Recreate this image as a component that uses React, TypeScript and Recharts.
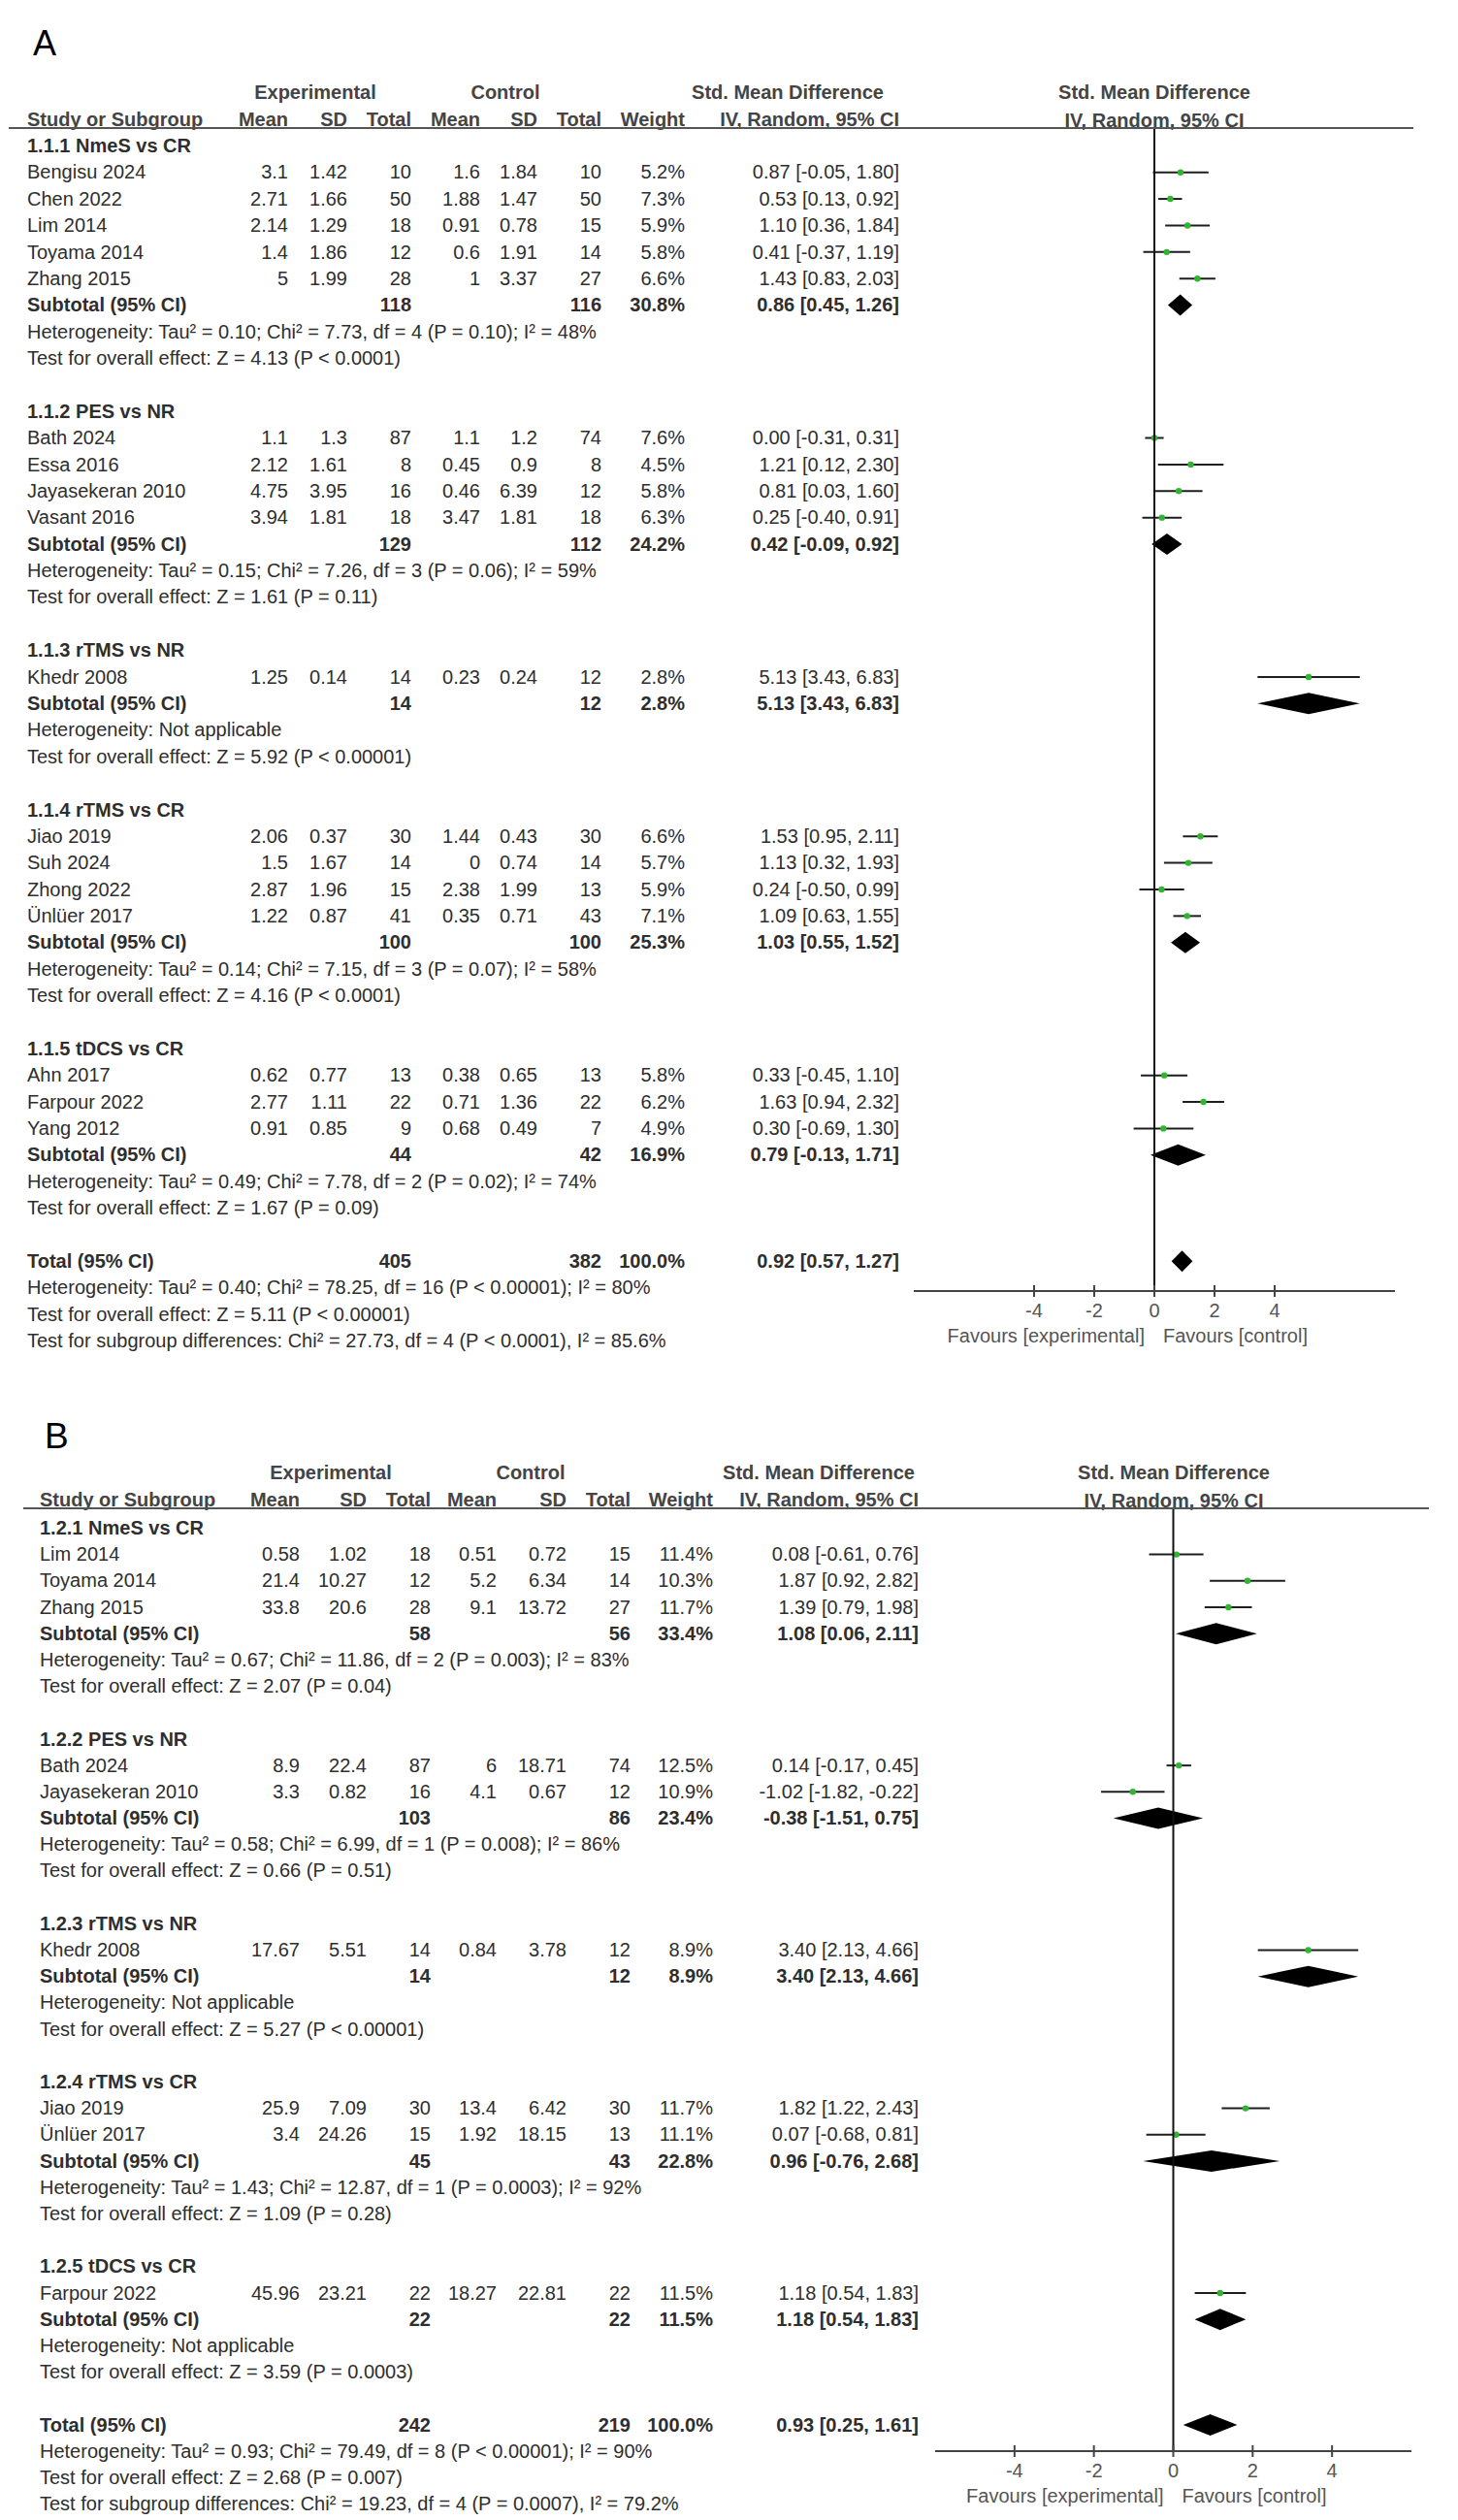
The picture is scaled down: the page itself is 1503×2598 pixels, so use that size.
import React from 'react';
import { ComposedChart, Bar, XAxis, YAxis, ReferenceLine } from 'recharts';

const FONT = '"Liberation Sans", Arial, Helvetica, sans-serif';
const TEXT = '#2e2e2e';
const HEAD = '#444444';
const GREEN = '#2fb52f';

// ---------------- Panel A data ----------------
const A_GROUPS = ['1.1.1 NmeS vs CR', '1.1.2 PES vs NR', '1.1.3 rTMS vs NR', '1.1.4 rTMS vs CR', '1.1.5 tDCS vs CR'];
const A_STUDIES = ['Bengisu 2024', 'Chen 2022', 'Lim 2014', 'Toyama 2014', 'Zhang 2015', 'Bath 2024', 'Essa 2016', 'Jayasekeran 2010', 'Vasant 2016', 'Khedr 2008', 'Jiao 2019', 'Suh 2024', 'Zhong 2022', 'Ünlüer 2017', 'Ahn 2017', 'Farpour 2022', 'Yang 2012'];
const A_STUDY_GROUP = [0, 0, 0, 0, 0, 1, 1, 1, 1, 2, 3, 3, 3, 3, 4, 4, 4];
const A_EXP_MEAN = [3.1, 2.71, 2.14, 1.4, 5, 1.1, 2.12, 4.75, 3.94, 1.25, 2.06, 1.5, 2.87, 1.22, 0.62, 2.77, 0.91];
const A_EXP_SD = [1.42, 1.66, 1.29, 1.86, 1.99, 1.3, 1.61, 3.95, 1.81, 0.14, 0.37, 1.67, 1.96, 0.87, 0.77, 1.11, 0.85];
const A_EXP_N = [10, 50, 18, 12, 28, 87, 8, 16, 18, 14, 30, 14, 15, 41, 13, 22, 9];
const A_CTL_MEAN = [1.6, 1.88, 0.91, 0.6, 1, 1.1, 0.45, 0.46, 3.47, 0.23, 1.44, 0, 2.38, 0.35, 0.38, 0.71, 0.68];
const A_CTL_SD = [1.84, 1.47, 0.78, 1.91, 3.37, 1.2, 0.9, 6.39, 1.81, 0.24, 0.43, 0.74, 1.99, 0.71, 0.65, 1.36, 0.49];
const A_CTL_N = [10, 50, 15, 14, 27, 74, 8, 12, 18, 12, 30, 14, 13, 43, 13, 22, 7];
const A_WEIGHT = [5.2, 7.3, 5.9, 5.8, 6.6, 7.6, 4.5, 5.8, 6.3, 2.8, 6.6, 5.7, 5.9, 7.1, 5.8, 6.2, 4.9];
const A_SMD = [0.87, 0.53, 1.1, 0.41, 1.43, 0.0, 1.21, 0.81, 0.25, 5.13, 1.53, 1.13, 0.24, 1.09, 0.33, 1.63, 0.3];
const A_LO = [-0.05, 0.13, 0.36, -0.37, 0.83, -0.31, 0.12, 0.03, -0.4, 3.43, 0.95, 0.32, -0.5, 0.63, -0.45, 0.94, -0.69];
const A_HI = [1.8, 0.92, 1.84, 1.19, 2.03, 0.31, 2.3, 1.6, 0.91, 6.83, 2.11, 1.93, 0.99, 1.55, 1.1, 2.32, 1.3];
const A_SUB_EXP_N = [118, 129, 14, 100, 44];
const A_SUB_CTL_N = [116, 112, 12, 100, 42];
const A_SUB_WEIGHT = [30.8, 24.2, 2.8, 25.3, 16.9];
const A_SUB_SMD = [0.86, 0.42, 5.13, 1.03, 0.79];
const A_SUB_LO = [0.45, -0.09, 3.43, 0.55, -0.13];
const A_SUB_HI = [1.26, 0.92, 6.83, 1.52, 1.71];
const A_SUB_HET = [
  'Heterogeneity: Tau² = 0.10; Chi² = 7.73, df = 4 (P = 0.10); I² = 48%',
  'Heterogeneity: Tau² = 0.15; Chi² = 7.26, df = 3 (P = 0.06); I² = 59%',
  'Heterogeneity: Not applicable',
  'Heterogeneity: Tau² = 0.14; Chi² = 7.15, df = 3 (P = 0.07); I² = 58%',
  'Heterogeneity: Tau² = 0.49; Chi² = 7.78, df = 2 (P = 0.02); I² = 74%',
];
const A_SUB_Z = [
  'Test for overall effect: Z = 4.13 (P < 0.0001)',
  'Test for overall effect: Z = 1.61 (P = 0.11)',
  'Test for overall effect: Z = 5.92 (P < 0.00001)',
  'Test for overall effect: Z = 4.16 (P < 0.0001)',
  'Test for overall effect: Z = 1.67 (P = 0.09)',
];
const A_TOTAL_N = [405, 382];
const A_TOTAL_EFFECT = [0.92, 0.57, 1.27];
const A_TOTAL_NOTES = [
  'Heterogeneity: Tau² = 0.40; Chi² = 78.25, df = 16 (P < 0.00001); I² = 80%',
  'Test for overall effect: Z = 5.11 (P < 0.00001)',
  'Test for subgroup differences: Chi² = 27.73, df = 4 (P < 0.0001), I² = 85.6%',
];
const A_TICKS = [-4, -2, 0, 2, 4];
const A_DOMAIN = [-8, 8];

// ---------------- Panel B data ----------------
const B_GROUPS = ['1.2.1 NmeS vs CR', '1.2.2 PES vs NR', '1.2.3 rTMS vs NR', '1.2.4 rTMS vs CR', '1.2.5 tDCS vs CR'];
const B_STUDIES = ['Lim 2014', 'Toyama 2014', 'Zhang 2015', 'Bath 2024', 'Jayasekeran 2010', 'Khedr 2008', 'Jiao 2019', 'Ünlüer 2017', 'Farpour 2022'];
const B_STUDY_GROUP = [0, 0, 0, 1, 1, 2, 3, 3, 4];
const B_EXP_MEAN = [0.58, 21.4, 33.8, 8.9, 3.3, 17.67, 25.9, 3.4, 45.96];
const B_EXP_SD = [1.02, 10.27, 20.6, 22.4, 0.82, 5.51, 7.09, 24.26, 23.21];
const B_EXP_N = [18, 12, 28, 87, 16, 14, 30, 15, 22];
const B_CTL_MEAN = [0.51, 5.2, 9.1, 6, 4.1, 0.84, 13.4, 1.92, 18.27];
const B_CTL_SD = [0.72, 6.34, 13.72, 18.71, 0.67, 3.78, 6.42, 18.15, 22.81];
const B_CTL_N = [15, 14, 27, 74, 12, 12, 30, 13, 22];
const B_WEIGHT = [11.4, 10.3, 11.7, 12.5, 10.9, 8.9, 11.7, 11.1, 11.5];
const B_SMD = [0.08, 1.87, 1.39, 0.14, -1.02, 3.4, 1.82, 0.07, 1.18];
const B_LO = [-0.61, 0.92, 0.79, -0.17, -1.82, 2.13, 1.22, -0.68, 0.54];
const B_HI = [0.76, 2.82, 1.98, 0.45, -0.22, 4.66, 2.43, 0.81, 1.83];
const B_SUB_EXP_N = [58, 103, 14, 45, 22];
const B_SUB_CTL_N = [56, 86, 12, 43, 22];
const B_SUB_WEIGHT = [33.4, 23.4, 8.9, 22.8, 11.5];
const B_SUB_SMD = [1.08, -0.38, 3.4, 0.96, 1.18];
const B_SUB_LO = [0.06, -1.51, 2.13, -0.76, 0.54];
const B_SUB_HI = [2.11, 0.75, 4.66, 2.68, 1.83];
const B_SUB_HET = [
  'Heterogeneity: Tau² = 0.67; Chi² = 11.86, df = 2 (P = 0.003); I² = 83%',
  'Heterogeneity: Tau² = 0.58; Chi² = 6.99, df = 1 (P = 0.008); I² = 86%',
  'Heterogeneity: Not applicable',
  'Heterogeneity: Tau² = 1.43; Chi² = 12.87, df = 1 (P = 0.0003); I² = 92%',
  'Heterogeneity: Not applicable',
];
const B_SUB_Z = [
  'Test for overall effect: Z = 2.07 (P = 0.04)',
  'Test for overall effect: Z = 0.66 (P = 0.51)',
  'Test for overall effect: Z = 5.27 (P < 0.00001)',
  'Test for overall effect: Z = 1.09 (P = 0.28)',
  'Test for overall effect: Z = 3.59 (P = 0.0003)',
];
const B_TOTAL_N = [242, 219];
const B_TOTAL_EFFECT = [0.93, 0.25, 1.61];
const B_TOTAL_NOTES = [
  'Heterogeneity: Tau² = 0.93; Chi² = 79.49, df = 8 (P < 0.00001); I² = 90%',
  'Test for overall effect: Z = 2.68 (P = 0.007)',
  'Test for subgroup differences: Chi² = 19.23, df = 4 (P = 0.0007), I² = 79.2%',
];
const B_TICKS = [-4, -2, 0, 2, 4];
const B_DOMAIN = [-6, 6];

// ---------------- helpers ----------------
type Row = {
  key: string;
  kind: 'group' | 'study' | 'subtotal' | 'note' | 'blank' | 'total';
  label?: string;
  cells?: string[];
  smd?: number;
  range: [number, number] | null;
  notes?: string[];
};

const f2 = (v: number) => v.toFixed(2);
const ciText = (e: number, lo: number, hi: number) => `${f2(e)} [${f2(lo)}, ${f2(hi)}]`;
const pct = (w: number) => `${w.toFixed(1)}%`;

function buildRows(d: any): Row[] {
  const rows: Row[] = [];
  let k = 0;
  const push = (r: Partial<Row>) => rows.push({ key: `r${k++}`, range: null, kind: 'blank', ...r } as Row);
  d.groups.forEach((g: string, gi: number) => {
    if (gi > 0) push({ kind: 'blank' });
    push({ kind: 'group', label: g });
    d.studies.forEach((s: string, i: number) => {
      if (d.studyGroup[i] !== gi) return;
      push({
        kind: 'study',
        label: s,
        cells: [String(d.expMean[i]), String(d.expSd[i]), String(d.expN[i]), String(d.ctlMean[i]), String(d.ctlSd[i]), String(d.ctlN[i]), pct(d.weight[i]), ciText(d.smd[i], d.lo[i], d.hi[i])],
        smd: d.smd[i],
        range: [d.lo[i], d.hi[i]],
      });
    });
    push({
      kind: 'subtotal',
      label: 'Subtotal (95% CI)',
      cells: ['', '', String(d.subExpN[gi]), '', '', String(d.subCtlN[gi]), pct(d.subWeight[gi]), ciText(d.subSmd[gi], d.subLo[gi], d.subHi[gi])],
      smd: d.subSmd[gi],
      range: [d.subLo[gi], d.subHi[gi]],
    });
    push({ kind: 'note', label: d.subHet[gi] });
    push({ kind: 'note', label: d.subZ[gi] });
  });
  push({ kind: 'blank' });
  push({
    kind: 'total',
    label: 'Total (95% CI)',
    cells: ['', '', String(d.totalN[0]), '', '', String(d.totalN[1]), '100.0%', ciText(d.totalEffect[0], d.totalEffect[1], d.totalEffect[2])],
    smd: d.totalEffect[0],
    range: [d.totalEffect[1], d.totalEffect[2]],
    notes: d.totalNotes,
  });
  return rows;
}

const renderMark = (props: any) => {
  const { x, y, width, height, payload } = props;
  if (!payload || !payload.range || width == null) return <g />;
  const [lo, hi] = payload.range;
  const cx = x + (width * (payload.smd - lo)) / (hi - lo);
  const cy = y + height / 2;
  if (payload.kind === 'study') {
    return (
      <g>
        <line x1={x} x2={x + width} y1={cy} y2={cy} stroke="#1e1e1e" strokeWidth={2} />
        <circle cx={cx} cy={cy} r={3.2} fill={GREEN} />
      </g>
    );
  }
  return <polygon points={`${x},${cy} ${cx},${y} ${x + width},${cy} ${cx},${y + height}`} fill="#000" />;
};

const makeRowTick = (rowMap: Map<string, Row>, cols: any, step: number) => (props: any) => {
  const { y, payload } = props;
  const r = rowMap.get(payload.value);
  if (!r) return <g />;
  const bold = r.kind === 'group' || r.kind === 'subtotal' || r.kind === 'total';
  const by = y + 7;
  return (
    <g fontFamily={FONT} fontSize={20} fill={TEXT}>
      {r.label ? (
        <text x={cols.study} y={by} fontWeight={bold ? 700 : 400} fill={TEXT}>
          {r.label}
        </text>
      ) : null}
      {r.cells
        ? r.cells.map((c, i) =>
            c ? (
              <text key={i} x={cols.right[i]} y={by} textAnchor="end" fontWeight={bold ? 700 : 400} fill={TEXT}>
                {c}
              </text>
            ) : null
          )
        : null}
      {r.notes
        ? r.notes.map((n, i) => (
            <text key={'n' + i} x={cols.study} y={by + (i + 1) * step} fill={TEXT}>
              {n}
            </text>
          ))
        : null}
    </g>
  );
};

const AxisTick = (props: any) => {
  const { x, y, payload } = props;
  return (
    <g fontFamily={FONT} fontSize={20}>
      <line x1={x} x2={x} y1={y - 6} y2={y + 6} stroke="#444" strokeWidth={2} />
      <text x={x} y={y + 27} textAnchor="middle" fill="#555">
        {String(payload.value)}
      </text>
      {payload.value === 0 ? (
        <>
          <text x={x - 10} y={y + 53} textAnchor="end" fill="#555">
            Favours [experimental]
          </text>
          <text x={x + 9} y={y + 53} textAnchor="start" fill="#555">
            Favours [control]
          </text>
        </>
      ) : null}
    </g>
  );
};

type PanelLayout = {
  top: number;
  height: number;
  label: string;
  labelX: number;
  labelY: number;
  labelSize: number;
  headerY: number;
  lineX1: number;
  lineX2: number;
  plotLeft: number;
  plotRight: number;
  axisY: number;
  padTop: number;
  padBottom: number;
  step: number;
  cols: { study: number; right: number[] };
  expC: number;
  ctlC: number;
  smdC: number;
  zeroX: number;
};

function Panel({ data, layout, domain, ticks }: { data: any; layout: PanelLayout; domain: number[]; ticks: number[] }) {
  const rows = buildRows(data);
  const rowMap = new Map(rows.map((r) => [r.key, r] as [string, Row]));
  const L = layout;
  const hy = L.headerY;
  const c = L.cols;
  const headStyle: any = { fontFamily: FONT, fontSize: 20, fontWeight: 700, fill: HEAD };
  return (
    <div style={{ position: 'absolute', left: 0, top: L.top, width: 1503, height: L.height, overflow: 'hidden' }}>
      <ComposedChart
        width={1503}
        height={L.height}
        layout="vertical"
        data={rows}
        margin={{ top: hy, right: 1503 - L.plotRight, bottom: 0, left: 0 }}
      >
        <XAxis
          type="number"
          domain={domain}
          ticks={ticks}
          interval={0}
          allowDataOverflow
          height={L.height - L.axisY}
          tickSize={0}
          tickMargin={0}
          tickLine={false}
          axisLine={{ stroke: '#444', strokeWidth: 2 }}
          tick={AxisTick}
        />
        <YAxis
          type="category"
          dataKey="key"
          width={L.plotLeft}
          interval={0}
          axisLine={false}
          tickLine={false}
          padding={{ top: L.padTop, bottom: L.padBottom }}
          tick={makeRowTick(rowMap, c, L.step)}
        />
        <ReferenceLine x={0} stroke="#111" strokeWidth={2} />
        <Bar dataKey="range" barSize={22} isAnimationActive={false} shape={renderMark} />
      </ComposedChart>
      <svg width={1503} height={L.height} style={{ position: 'absolute', left: 0, top: 0, pointerEvents: 'none' }}>
        <text x={L.labelX} y={L.labelY} fontFamily={FONT} fontSize={L.labelSize} fill="#000">
          {L.label}
        </text>
        <text {...headStyle} x={L.expC} y={hy - 30} textAnchor="middle">Experimental</text>
        <text {...headStyle} x={L.ctlC} y={hy - 30} textAnchor="middle">Control</text>
        <text {...headStyle} x={L.smdC} y={hy - 30} textAnchor="middle">Std. Mean Difference</text>
        <text {...headStyle} x={L.zeroX} y={hy - 30} textAnchor="middle">Std. Mean Difference</text>
        <text {...headStyle} x={c.study} y={hy - 2}>Study or Subgroup</text>
        {['Mean', 'SD', 'Total', 'Mean', 'SD', 'Total', 'Weight', 'IV, Random, 95% CI'].map((h, i) => (
          <text key={i} {...headStyle} x={c.right[i]} y={hy - 2} textAnchor="end">
            {h}
          </text>
        ))}
        <text {...headStyle} x={L.zeroX} y={hy - 1} textAnchor="middle">IV, Random, 95% CI</text>
        <line x1={L.lineX1} x2={L.lineX2} y1={hy} y2={hy} stroke="#555" strokeWidth={2} />
      </svg>
    </div>
  );
}

const DATA_A = {
  groups: A_GROUPS, studies: A_STUDIES, studyGroup: A_STUDY_GROUP,
  expMean: A_EXP_MEAN, expSd: A_EXP_SD, expN: A_EXP_N, ctlMean: A_CTL_MEAN, ctlSd: A_CTL_SD, ctlN: A_CTL_N,
  weight: A_WEIGHT, smd: A_SMD, lo: A_LO, hi: A_HI,
  subExpN: A_SUB_EXP_N, subCtlN: A_SUB_CTL_N, subWeight: A_SUB_WEIGHT, subSmd: A_SUB_SMD, subLo: A_SUB_LO, subHi: A_SUB_HI,
  subHet: A_SUB_HET, subZ: A_SUB_Z, totalN: A_TOTAL_N, totalEffect: A_TOTAL_EFFECT, totalNotes: A_TOTAL_NOTES,
};
const DATA_B = {
  groups: B_GROUPS, studies: B_STUDIES, studyGroup: B_STUDY_GROUP,
  expMean: B_EXP_MEAN, expSd: B_EXP_SD, expN: B_EXP_N, ctlMean: B_CTL_MEAN, ctlSd: B_CTL_SD, ctlN: B_CTL_N,
  weight: B_WEIGHT, smd: B_SMD, lo: B_LO, hi: B_HI,
  subExpN: B_SUB_EXP_N, subCtlN: B_SUB_CTL_N, subWeight: B_SUB_WEIGHT, subSmd: B_SUB_SMD, subLo: B_SUB_LO, subHi: B_SUB_HI,
  subHet: B_SUB_HET, subZ: B_SUB_Z, totalN: B_TOTAL_N, totalEffect: B_TOTAL_EFFECT, totalNotes: B_TOTAL_NOTES,
};

const LAYOUT_A: PanelLayout = {
  top: 0, height: 1397, label: 'A', labelX: 34, labelY: 57, labelSize: 36,
  headerY: 132, lineX1: 9, lineX2: 1457, plotLeft: 942, plotRight: 1438, axisY: 1331,
  padTop: 4.3, padBottom: 17.3, step: 27.38,
  cols: { study: 28, right: [297, 358, 424, 495, 554, 620, 706, 927] },
  expC: 325, ctlC: 521, smdC: 812, zeroX: 1190,
};
const LAYOUT_B: PanelLayout = {
  top: 1400, height: 1197, label: 'B', labelX: 46, labelY: 93, labelSize: 37,
  headerY: 155, lineX1: 24, lineX2: 1473, plotLeft: 964, plotRight: 1455, axisY: 1127,
  padTop: 6.4, padBottom: 13.9, step: 27.19,
  cols: { study: 41, right: [309, 378, 444, 512, 584, 650, 735, 947] },
  expC: 341, ctlC: 547, smdC: 844, zeroX: 1210,
};

export default function App() {
  return (
    <div style={{ position: 'absolute', left: 0, top: 0, width: 1503, height: 2598, background: '#fff', overflow: 'hidden' }}>
      <style>{'body{margin:0;background:#fff}'}</style>
      <Panel data={DATA_A} layout={LAYOUT_A} domain={A_DOMAIN} ticks={A_TICKS} />
      <Panel data={DATA_B} layout={LAYOUT_B} domain={B_DOMAIN} ticks={B_TICKS} />
    </div>
  );
}
